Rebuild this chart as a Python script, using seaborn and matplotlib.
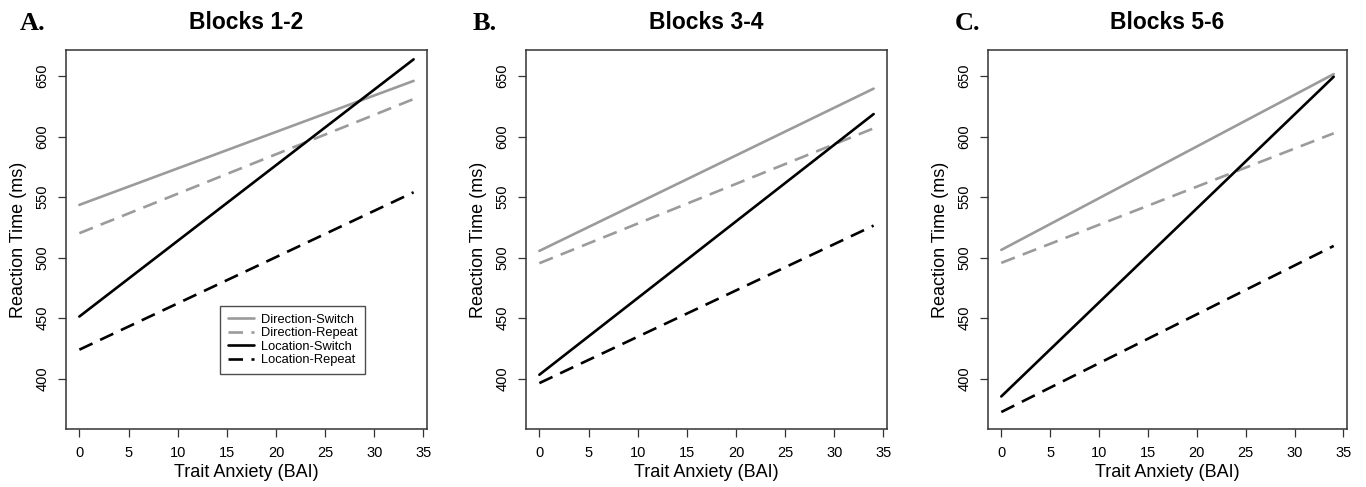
import pandas as pd
import matplotlib.pyplot as plt
import seaborn as sns

# trait anxiety (BAI) endpoints of the fitted lines
bai = [0, 34]

conditions = ['Direction-Switch', 'Direction-Repeat', 'Location-Switch', 'Location-Repeat']
panel_letters = ['A.', 'B.', 'C.']
panel_titles = ['Blocks 1-2', 'Blocks 3-4', 'Blocks 5-6']

# reaction time (ms) at BAI = 0 and BAI = 34, per block pair
blocks_12 = {
    'Direction-Switch': [543.6, 646.0],
    'Direction-Repeat': [520.2, 631.0],
    'Location-Switch': [451.4, 663.8],
    'Location-Repeat': [424.0, 554.0],
}
blocks_34 = {
    'Direction-Switch': [505.6, 639.6],
    'Direction-Repeat': [495.4, 606.8],
    'Location-Switch': [403.3, 618.6],
    'Location-Repeat': [396.4, 526.5],
}
blocks_56 = {
    'Direction-Switch': [506.4, 651.6],
    'Direction-Repeat': [495.7, 602.7],
    'Location-Switch': [385.4, 649.4],
    'Location-Repeat': [372.5, 509.7],
}

x_ticks = [0, 5, 10, 15, 20, 25, 30, 35]
y_ticks = [400, 450, 500, 550, 600, 650]

sns.set_theme(style="ticks")
plt.rcParams['font.family'] = ['Liberation Sans', 'DejaVu Sans']
plt.rcParams['text.color'] = 'black'
plt.rcParams['axes.labelcolor'] = 'black'
plt.rcParams['xtick.color'] = '#333333'
plt.rcParams['ytick.color'] = '#333333'
plt.rcParams['xtick.labelcolor'] = 'black'
plt.rcParams['ytick.labelcolor'] = 'black'

palette = {
    'Direction-Switch': '#9b9b9b',
    'Direction-Repeat': '#9b9b9b',
    'Location-Switch': '#000000',
    'Location-Repeat': '#000000',
}
dashes = {
    'Direction-Switch': '',
    'Direction-Repeat': (5.5, 3.2),
    'Location-Switch': '',
    'Location-Repeat': (5.5, 3.2),
}


def to_long(block):
    rows = []
    for cond in conditions:
        for x, y in zip(bai, block[cond]):
            rows.append({'BAI': x, 'RT': y, 'Condition': cond})
    return pd.DataFrame(rows)


fig = plt.figure(figsize=(13.66, 4.87), dpi=100)

lefts = [66, 526, 988]
widths = [361, 361, 359]
blocks = [blocks_12, blocks_34, blocks_56]
letter_x = [20, 473, 955]

for i in range(3):
    ax = fig.add_axes([lefts[i] / 1366, 58 / 487, widths[i] / 1366, 379 / 487])
    df = to_long(blocks[i])

    sns.lineplot(
        data=df,
        x='BAI',
        y='RT',
        hue='Condition',
        style='Condition',
        hue_order=conditions,
        style_order=conditions,
        palette=palette,
        dashes=dashes,
        linewidth=1.9,
        legend=(i == 0),
        ax=ax
    )

    ax.set_xlim(-1.36, 35.36)
    ax.set_ylim(358.5, 671.5)
    ax.set_xticks(x_ticks)
    ax.set_yticks(y_ticks)
    ax.set_yticklabels([str(t) for t in y_ticks], rotation=90, va='center')
    ax.tick_params(axis='both', labelsize=10.5, length=6, width=0.9, pad=6)

    for side in ['top', 'right', 'bottom', 'left']:
        ax.spines[side].set_visible(True)
        ax.spines[side].set_color('#333333')
        ax.spines[side].set_linewidth(1.1)

    ax.set_xlabel('Trait Anxiety (BAI)', fontsize=13, labelpad=3)
    ax.set_ylabel('Reaction Time (ms)', fontsize=13, labelpad=6)
    ax.set_title(panel_titles[i], fontsize=16.5, fontweight='bold', pad=15)

    fig.text(letter_x[i] / 1366, 1 - 24 / 487, panel_letters[i],
             fontsize=19, fontweight='bold', va='center', ha='left',
             family=['Liberation Serif', 'DejaVu Serif'])

    if i == 0:
        leg = ax.legend(
            loc='upper left',
            bbox_to_anchor=(0.427, 0.325),
            fontsize=9.3,
            frameon=True,
            fancybox=False,
            handlelength=2.0,
            handletextpad=0.55,
            labelspacing=0.12,
            borderpad=0.6,
            borderaxespad=0,
            title=None
        )
        leg.get_frame().set_edgecolor('#222222')
        leg.get_frame().set_linewidth(1.0)

plt.savefig('out.png', dpi=100)
